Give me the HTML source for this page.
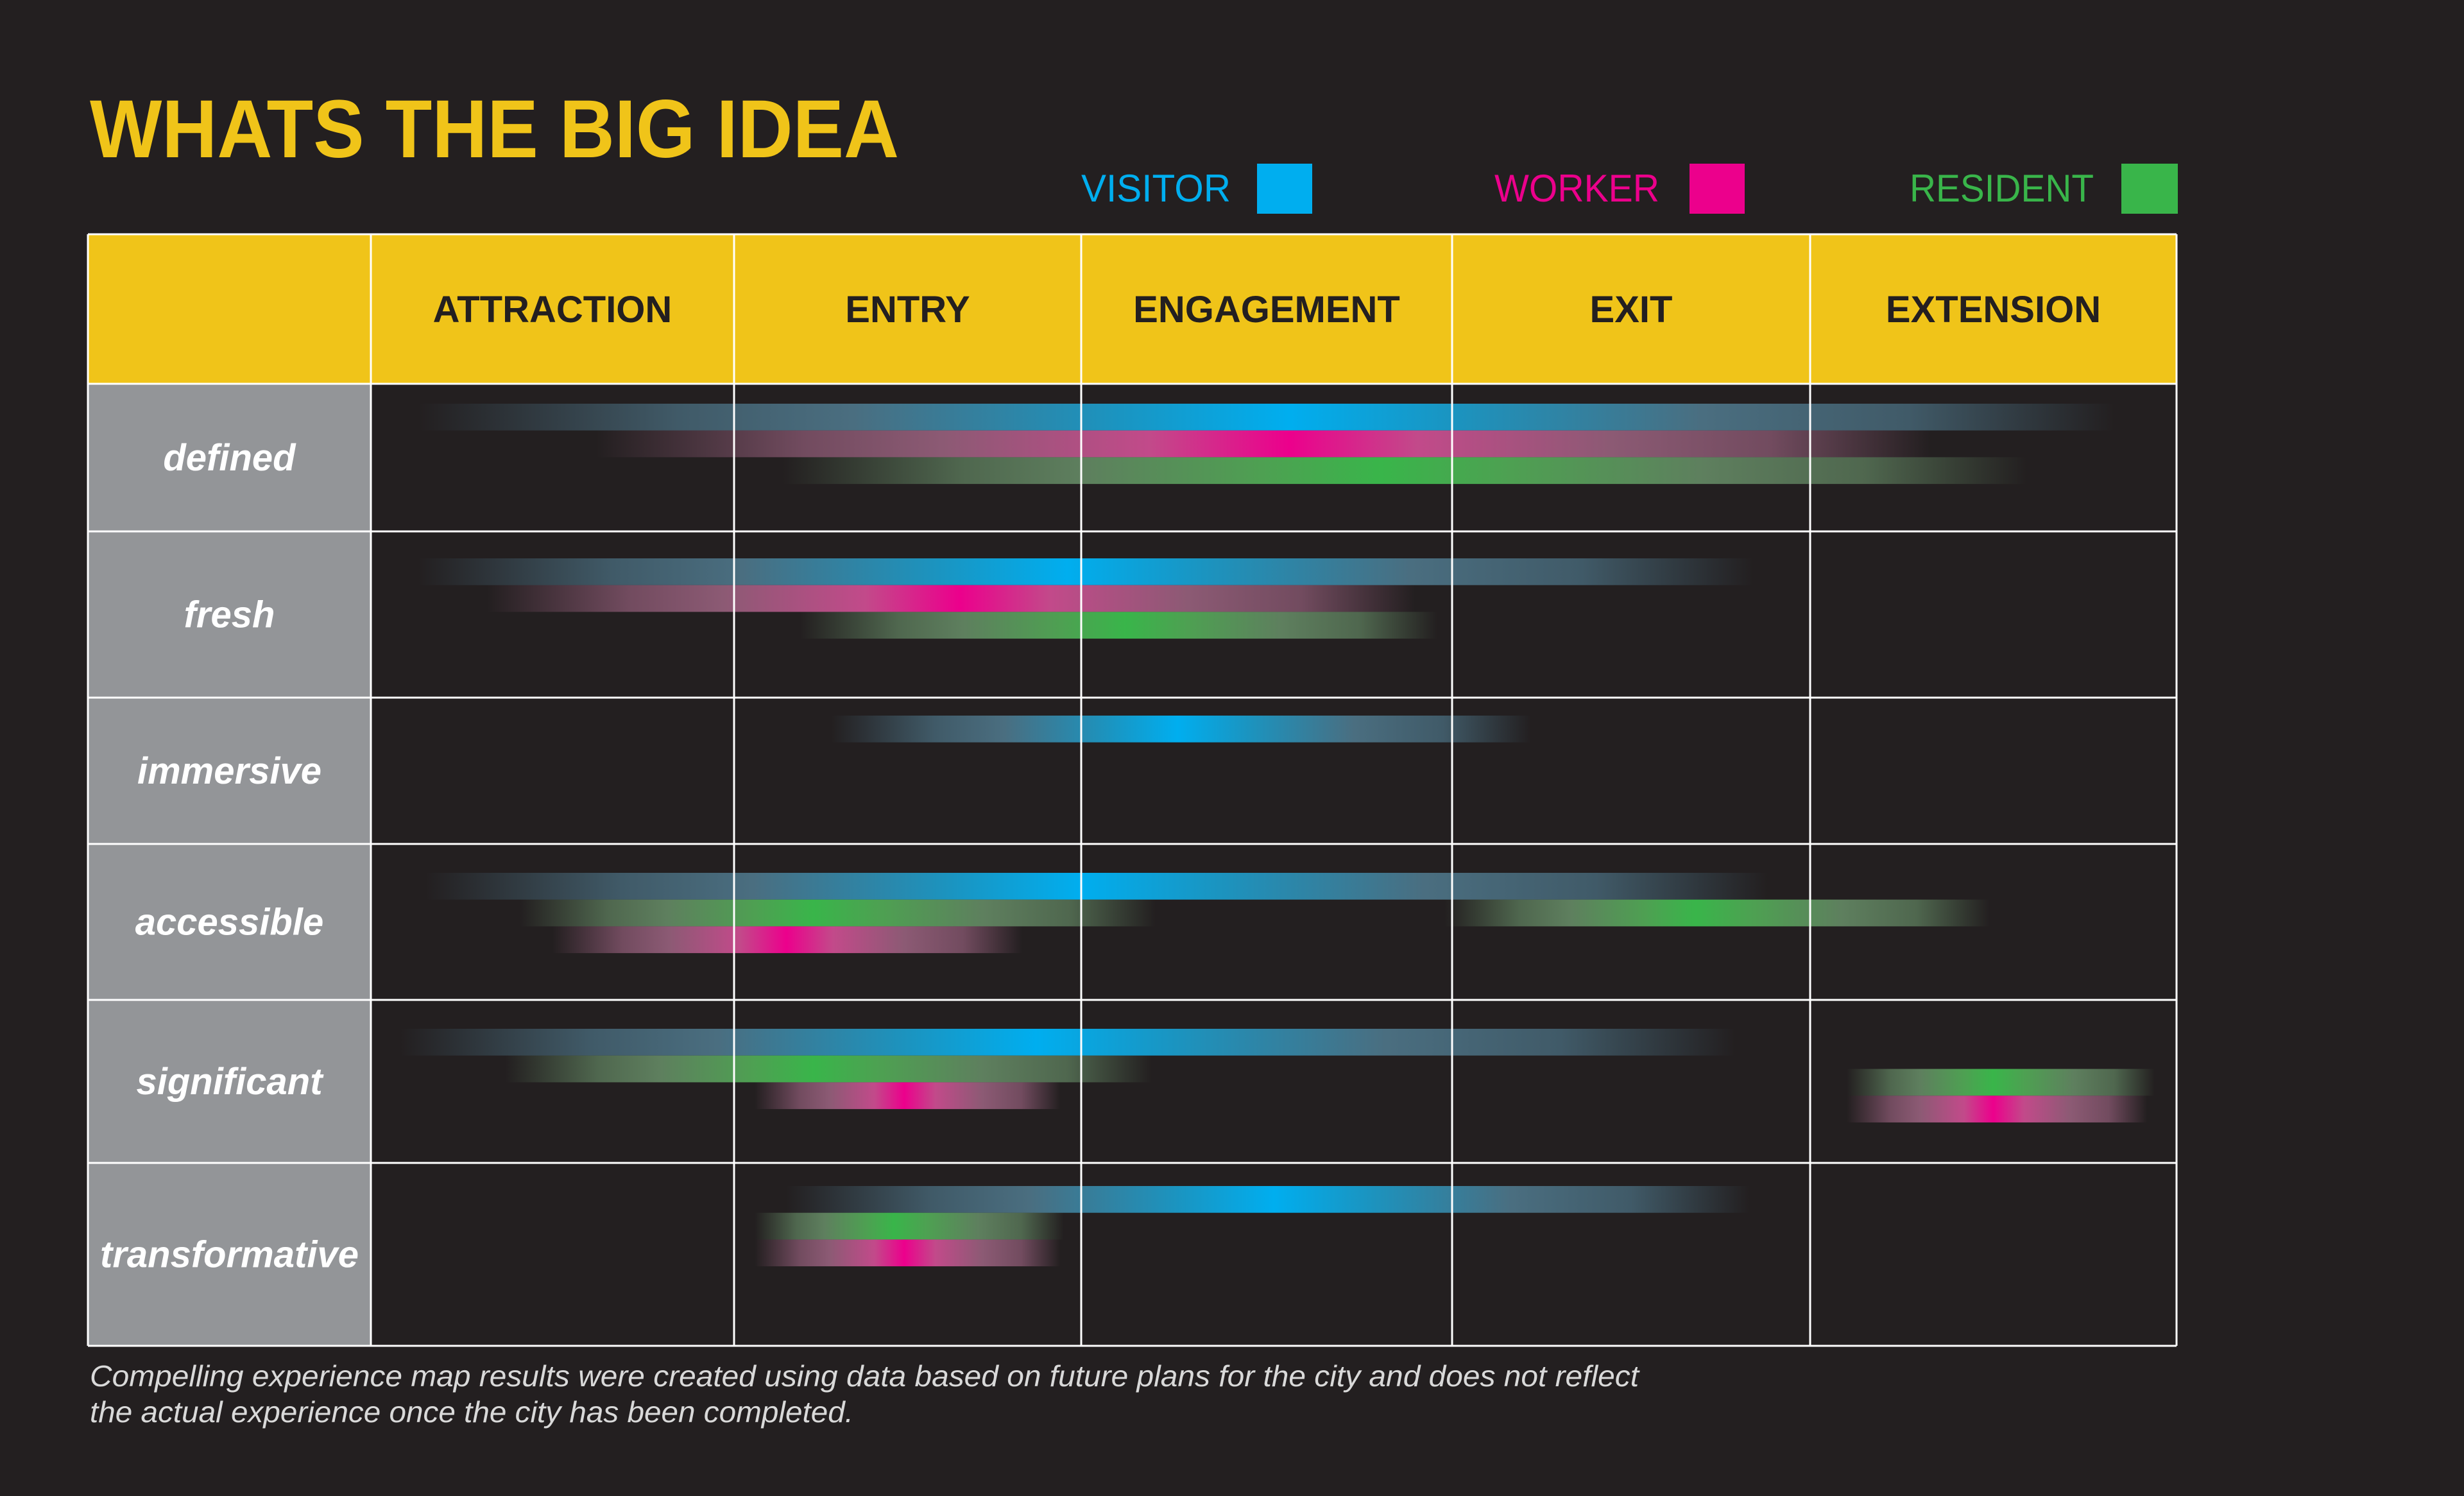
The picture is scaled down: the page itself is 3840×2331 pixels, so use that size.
<!DOCTYPE html>
<html><head><meta charset="utf-8"><style>
html,body{margin:0;padding:0;background:#231f20;}
svg{display:block;}
</style></head><body>
<svg id="chart" width="3840" height="2331" viewBox="0 0 3840 2331" xmlns="http://www.w3.org/2000/svg" font-family="Liberation Sans, sans-serif">
<rect x="0" y="0" width="3840" height="2331" fill="#231f20"/>
<text x="140" y="245" font-size="128" font-weight="bold" fill="#f0c419" textLength="1261" lengthAdjust="spacingAndGlyphs">WHATS THE BIG IDEA</text>
<g>
 <text x="1685" y="314" font-size="60" fill="#00aeef" textLength="233" lengthAdjust="spacingAndGlyphs">VISITOR</text>
 <rect x="1959" y="255" width="86" height="78" fill="#00aeef"/>
 <text x="2329" y="314" font-size="60" fill="#ec008c" textLength="257" lengthAdjust="spacingAndGlyphs">WORKER</text>
 <rect x="2633" y="255" width="86" height="78" fill="#ec008c"/>
 <text x="2976" y="314" font-size="60" fill="#39b54a" textLength="287" lengthAdjust="spacingAndGlyphs">RESIDENT</text>
 <rect x="3306" y="255" width="88" height="78" fill="#39b54a"/>
</g>
<defs id="defs"></defs>
<g id="table"></g>
<g id="bars"></g>
<g id="grid"></g>
<g id="labels"></g>
<text x="140" y="2160" font-size="46" font-style="italic" fill="#d9d9d9" textLength="2414" lengthAdjust="spacingAndGlyphs">Compelling experience map results were created using data based on future plans for the city and does not reflect</text>
<text x="140" y="2216" font-size="46" font-style="italic" fill="#d9d9d9" textLength="1190" lengthAdjust="spacingAndGlyphs">the actual experience once the city has been completed.</text>
</svg>
<script>
const stages = ["ATTRACTION","ENTRY","ENGAGEMENT","EXIT","EXTENSION"];
const qualities = ["defined","fresh","immersive","accessible","significant","transformative"];
const seriesNames = ["visitor","worker","resident"];
const barRows = [0,0,0, 1,1,1, 2, 3,3,3,3, 4,4,4,4,4, 5,5,5];
const barSeries = ["visitor","worker","resident", "visitor","worker","resident", "visitor", "visitor","resident","resident","worker", "visitor","resident","worker","resident","worker", "visitor","resident","worker"];
const barStart = [0.13,0.62,1.14, 0.13,0.32,1.19, 1.28, 0.15,0.41,2.98,0.50, 0.08,0.37,1.06,4.10,4.10, 1.15,1.06,1.06];
const barPeak  = [2.56,2.56,2.81, 1.96,1.65,2.12, 2.26, 2.00,1.23,3.68,1.15, 1.87,1.23,1.49,4.50,4.50, 2.52,1.46,1.49];
const barEnd   = [4.83,4.33,4.59, 3.84,2.90,2.96, 3.22, 3.88,2.20,4.49,1.83, 3.79,2.19,1.94,4.94,4.92, 3.83,1.95,1.94];
const barLane  = [0,1,2, 0,1,2, 0, 0,1,1,2, 0,1,2,1.5,2.5, 0,1,2];

const NS="http://www.w3.org/2000/svg";
const colX=[578,1144,1685,2263,2821,3392];
const tableLeft=137, headerTop=365;
const rowY=[598,828,1087,1315,1558,1812,2097];
const rowPad=[31,42,28,45,45,36];
const laneH=41.7;
const colors={visitor:"#00aeef",worker:"#ec008c",resident:"#39b54a"};
const tints={visitor:"#4a6e80",worker:"#8c5a74",resident:"#5e7f5e"};
const mids={visitor:"#1b94c0",worker:"#c24a8a",resident:"#4ea052"};
function xScale(v){const i=Math.max(0,Math.min(4,Math.floor(v)));return colX[i]+(v-i)*(colX[i+1]-colX[i]);}
function yScale(r,lane){return rowY[r]+rowPad[r]+lane*laneH;}
function mk(tag,attrs,parent){const e=document.createElementNS(NS,tag);for(const k in attrs)e.setAttribute(k,attrs[k]);parent.appendChild(e);return e;}
const table=document.getElementById('table'),bars=document.getElementById('bars'),grid=document.getElementById('grid'),labels=document.getElementById('labels'),defs=document.getElementById('defs');
let e=mk('rect',{x:tableLeft,y:headerTop,width:colX[5]-tableLeft,height:rowY[0]-headerTop,fill:"#f0c419"},table);


e=mk('rect',{x:tableLeft,y:rowY[0],width:colX[0]-tableLeft,height:rowY[6]-rowY[0],fill:"#939598"},table);


stages.forEach((s,i)=>{const t=mk('text',{x:(colX[i]+colX[i+1])/2,y:502,'font-size':58,'font-weight':'bold',fill:'#231f20','text-anchor':'middle'},labels);t.textContent=s;

});
qualities.forEach((q,i)=>{const t=mk('text',{x:(tableLeft+colX[0])/2,y:(rowY[i]+rowY[i+1])/2+20,'font-size':58,'font-weight':'bold','font-style':'italic',fill:'#ffffff','text-anchor':'middle'},labels);t.textContent=q;

});
barRows.forEach((r,i)=>{
 const s=barSeries[i],x0=xScale(barStart[i]),xp=xScale(barPeak[i]),x1=xScale(barEnd[i]);
 const id='g'+i;const g=mk('linearGradient',{id:id,gradientUnits:'userSpaceOnUse',x1:x0,y1:0,x2:x1,y2:0},defs);
 const w=x1-x0;const pl=(xp-x0)/w;const pr=1-pl;
 const stops=[[0,tints[s],0],[pl*0.3,tints[s],0.75],[pl*0.5,tints[s],1],[pl*0.8,mids[s],1],[pl,colors[s],1],[pl+pr*0.2,mids[s],1],[pl+pr*0.5,tints[s],1],[pl+pr*0.75,tints[s],0.75],[1,tints[s],0]];
 stops.forEach(st=>mk('stop',{offset:st[0],'stop-color':st[1],'stop-opacity':st[2]},g));
 const b=mk('rect',{x:x0,y:yScale(r,barLane[i]),width:w,height:laneH,fill:'url(#'+id+')'},bars);
 
 
});
[tableLeft].concat(colX).forEach((x,i)=>{const l=mk('line',{x1:x,y1:headerTop,x2:x,y2:rowY[6],stroke:'#ffffff','stroke-width':3},grid);

});
[headerTop].concat(rowY).forEach(y=>{const l=mk('line',{x1:tableLeft,y1:y,x2:colX[5],y2:y,stroke:'#ffffff','stroke-width':3},grid);

});
</script>
</body></html>
